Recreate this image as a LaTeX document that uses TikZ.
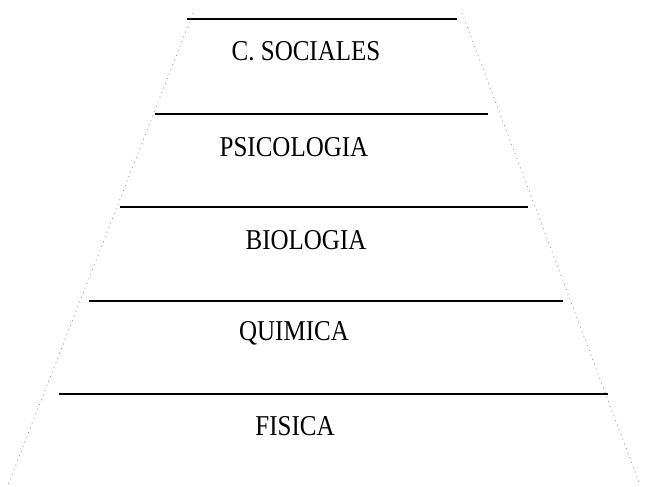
\documentclass[tikz,border=0pt]{standalone}
\usepackage{fontspec}
\setmainfont{Liberation Serif}

\begin{document}
\begin{tikzpicture}[x=1pt, y=-1pt,
    rung/.style={line width=1.6pt},
    side/.style={gray!80, line width=0.8pt, dash pattern=on 1pt off 4pt},
    level/.style={anchor=base, transform shape, yscale=1.15, font=\fontsize{25}{30}\selectfont}]
    \useasboundingbox (0,0) rectangle (656,487);
    % Dividers between the levels
    \coordinate (l1) at (187,19);  \coordinate (r1) at (457,19);
    \coordinate (l2) at (155,114); \coordinate (r2) at (488,114);
    \coordinate (l3) at (120,207); \coordinate (r3) at (528,207);
    \coordinate (l4) at (89,301);  \coordinate (r4) at (563,301);
    \coordinate (l5) at (59,394);  \coordinate (r5) at (608,394);
    \draw[rung] (l1) -- (r1);
    \draw[rung] (l2) -- (r2);
    \draw[rung] (l3) -- (r3);
    \draw[rung] (l4) -- (r4);
    \draw[rung] (l5) -- (r5);
    % Sloping sides of the pyramid
    \coordinate (topL) at (193,13); \coordinate (baseL) at (8,485);
    \coordinate (topR) at (462,13); \coordinate (baseR) at (640,485);
    \draw[side] (topL) -- (baseL);
    \draw[side] (topR) -- (baseR);
    % Level labels
    \node[level] (sociales) at (306,61) {C. SOCIALES};
    \node[level] (psico) at (294,156) {PSICOLOGIA};
    \node[level] (bio) at (306,249) {BIOLOGIA};
    \node[level] (quim) at (294,340) {QUIMICA};
    \node[level] (fis) at (295,435) {FISICA};
\end{tikzpicture}
\end{document}
